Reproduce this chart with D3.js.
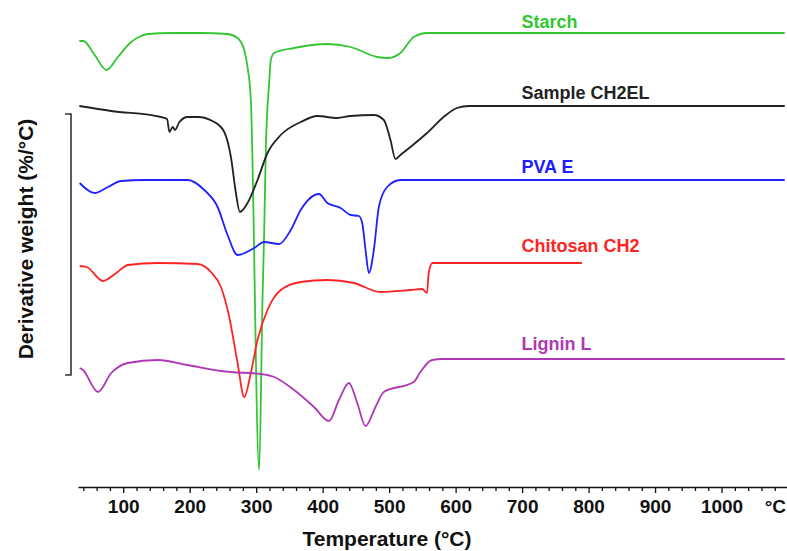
<!DOCTYPE html>
<html>
<head>
<meta charset="utf-8">
<script src="https://cdn.jsdelivr.net/npm/d3@7/dist/d3.min.js"></script>
<style>
  body { margin: 0; background: #fff; }
  svg { display: block; }
  text { font-family: Arial, "Liberation Sans", sans-serif; font-weight: bold; }
</style>
</head>
<body>
<div id="chart"></div>
<script>
// DTG curves, [temperature °C, derivative weight relative to the curve's own baseline]
const starch = [
  [34, -0.8], [40, -0.8], [57, -2.2], [75, -3.7], [92, -2.4], [112, -0.9], [125, -0.35], [137, -0.1],
  [172, 0], [217, 0], [257, -0.1], [272, -0.5], [282, -1.7], [287, -3.4], [292, -6.7],
  [304.5, -43.7], [309.5, -26.7], [312, -20], [314.5, -11.7], [319.5, -5], [322, -2.7],
  [327, -2.0], [357, -1.5], [407, -1.1], [442, -1.4], [482, -2.4], [499, -2.5], [517, -2.0],
  [537, -0.4], [557, 0], [1095, 0]
];

const sampleCH2EL = [
  [34, 0], [82, -0.5], [157, -1.1], [166, -1.3], [169.5, -2.6], [174.5, -2.1], [178, -2.4],
  [184.5, -1.6], [197, -1.1], [212, -1.1], [237, -1.6], [252, -2.6], [262, -5.1], [269.5, -8.7],
  [275.5, -10.6], [287, -9.7], [302, -7.4], [317, -4.7], [337, -2.9], [367, -1.6], [392, -1.0],
  [422, -1.2], [442, -1.0], [477, -0.9], [492, -1.4], [502, -3.4], [509.5, -5.3], [517, -4.9],
  [532, -4.1], [557, -2.7], [582, -1.1], [602, -0.2], [620, 0], [1095, 0]
];

const pvaE = [
  [34.5, -0.3], [57, -1.3], [77, -0.7], [97, -0.1], [132, 0], [197, 0], [222, -1.0], [242, -2.7],
  [257, -5.5], [272, -7.5], [297, -6.8], [312, -6.2], [334.5, -6.4], [352, -5.0], [367, -3.0],
  [394.5, -1.4], [407, -2.3], [427, -2.8], [442, -3.5], [454.5, -3.6], [459.5, -4.3], [464.5, -7.0],
  [469.5, -9.3], [477, -7.0], [484.5, -2.7], [497, -0.7], [517, 0], [1095, 0]
];

const chitosanCH2 = [
  [34.5, -0.3], [45, -0.4], [69.5, -1.8], [89.5, -1.0], [107, -0.2], [152, 0], [212, -0.1],
  [232, -0.9], [247, -2.4], [259.5, -5.4], [272, -10.0], [282, -13.4], [292, -11.0], [302, -7.7],
  [317, -4.7], [337, -2.7], [367, -1.9], [407, -1.7], [447, -2.0], [487, -2.9], [532, -2.7],
  [549.5, -2.6], [557, -3.0], [559.5, -1.0], [565, 0], [790, 0]
];

const ligninL = [
  [34.5, -0.9], [39.5, -1.1], [62, -3.3], [82, -1.4], [107, -0.4], [152, -0.1], [197, -0.6],
  [247, -1.2], [262, -1.3], [307, -1.5], [327, -1.8], [357, -3.1], [387, -4.8], [409.5, -6.2],
  [424.5, -4.1], [439.5, -2.4], [452, -4.4], [464.5, -6.7], [479.5, -4.8], [492, -3.3],
  [537, -2.3], [547, -1.3], [564.5, -0.1], [580, 0], [1095, 0]
];

const seriesNames = ["Starch", "Sample CH2EL", "PVA E", "Chitosan CH2", "Lignin L"];
const seriesData = [starch, sampleCH2EL, pvaE, chitosanCH2, ligninL];
const seriesOffsets = [0, -7.3, -14.7, -23.0, -32.6];   // vertical stacking of curves
const scaleBar = [-8.1, -34.2];                          // bracket on the left
const tickLabels = [100, 200, 300, 400, 500, 600, 700, 800, 900, 1000];

const colors = ["#33c633", "#222222", "#2020ff", "#ff2424", "#b038b4"];
const labelDy = [-5, -7, -7, -11, -9];

const width = 787;
const height = 551;

const svg = d3.select("#chart")
  .append("svg")
  .attr("width", width)
  .attr("height", height);

const x = d3.scaleLinear()
  .domain([32, 1098])
  .range([78, 786.7]);

const y = d3.scaleLinear()
  .domain([3.3, -43.7])
  .range([0, 470]);

const axisY = 487;

// x axis, minor ticks every 20 °C
const xAxis = d3.axisBottom(x)
  .tickValues(d3.range(40, 1098, 20))
  .tickFormat(d => tickLabels.includes(d) ? d : "")
  .tickSize(4)
  .tickSizeOuter(0)
  .tickPadding(8.5);

const gx = svg.append("g")
  .attr("transform", `translate(0,${axisY})`)
  .call(xAxis);

gx.select(".domain").attr("stroke", "#111").attr("stroke-width", 1.6);
gx.selectAll(".tick line").attr("stroke", "#111").attr("stroke-width", 1.3)
  .filter(d => d % 100 === 0).attr("y2", 6);
gx.selectAll(".tick text")
  .attr("fill", "#111")
  .style("font-size", "19px");

svg.append("text")
  .attr("x", 786)
  .attr("y", axisY + 26)
  .attr("text-anchor", "end")
  .attr("fill", "#111")
  .style("font-size", "19px")
  .text("°C");

svg.append("text")
  .attr("x", 387)
  .attr("y", 546)
  .attr("text-anchor", "middle")
  .attr("fill", "#111")
  .style("font-size", "21px")
  .text("Temperature (°C)");

svg.append("text")
  .attr("transform", "translate(33,239) rotate(-90)")
  .attr("text-anchor", "middle")
  .attr("fill", "#111")
  .style("font-size", "21px")
  .text("Derivative weight (%/°C)");

// scale bracket
svg.append("path")
  .attr("d", `M65,${y(scaleBar[0])}H71V${y(scaleBar[1])}H65`)
  .attr("fill", "none")
  .attr("stroke", "#333")
  .attr("stroke-width", 1.6);

const line = d3.line()
  .x(d => x(d[0]))
  .y(d => y(d[1]))
  .curve(d3.curveMonotoneX);

seriesData.forEach((data, i) => {
  const shifted = data.map(d => [d[0], d[1] + seriesOffsets[i]]);

  svg.append("path")
    .datum(shifted)
    .attr("fill", "none")
    .attr("stroke", colors[i])
    .attr("stroke-width", 1.8)
    .attr("stroke-linejoin", "round")
    .attr("d", line);

  svg.append("text")
    .attr("x", x(699))
    .attr("y", y(seriesOffsets[i]) + labelDy[i])
    .attr("fill", colors[i])
    .style("font-size", "18px")
    .text(seriesNames[i]);
});
</script>
</body>
</html>
